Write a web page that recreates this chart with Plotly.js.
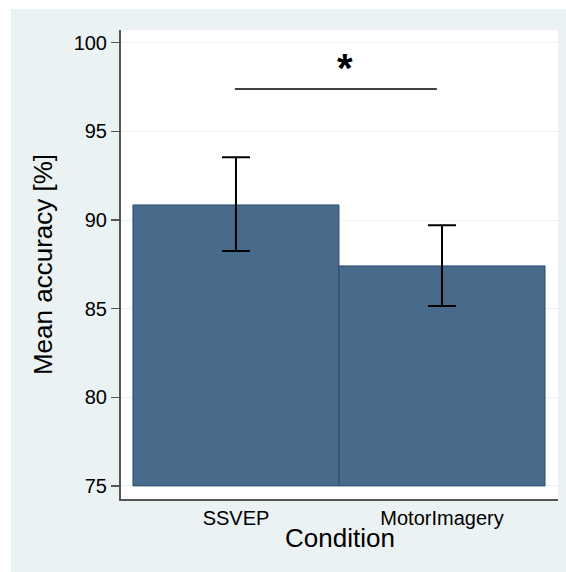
<!DOCTYPE html>
<html>
<head>
<meta charset="utf-8">
<script src="https://cdn.plot.ly/plotly-3.0.1.min.js"></script>
<style>html,body{margin:0;padding:0;background:#fff;}#chart{width:566px;height:572px;}</style>
</head>
<body>
<div id="chart"></div>
<script>
// Data
var categories = ["SSVEP", "MotorImagery"];
var meanAccuracy = [90.85, 87.41];
var ciUpper = [93.54, 89.70];
var ciLower = [88.25, 85.15];
var barBase = 75;
var yTickVals = [75, 80, 85, 90, 95, 100];
var sigLineX = [-0.005, 0.975];
var sigLineY = [97.39, 97.39];
var sigLabel = "*";
var xTitle = "Condition";
var yTitle = "Mean accuracy [%]";

var xPos = categories.map(function(c, i){ return i; });

var bars = {
  type: "bar",
  x: xPos,
  y: meanAccuracy.map(function(m){ return m - barBase; }),
  base: barBase,
  width: 1,
  marker: {color: "#486A8B", line: {color: "#2C4E70", width: 1}},
  error_y: {
    type: "data", symmetric: false,
    array: meanAccuracy.map(function(m, i){ return ciUpper[i] - m; }),
    arrayminus: meanAccuracy.map(function(m, i){ return m - ciLower[i]; }),
    color: "#000", thickness: 2, width: 14
  },
  hoverinfo: "skip"
};

var sig = {
  type: "scatter", mode: "lines",
  x: sigLineX, y: sigLineY,
  line: {color: "#000", width: 1.5},
  hoverinfo: "skip"
};

var font = "'Liberation Sans', Arial, sans-serif";

var layout = {
  width: 566, height: 572,
  margin: {l: 121, r: 8, t: 30, b: 73, pad: 0},
  paper_bgcolor: "#EAF2F3",
  plot_bgcolor: "#FFFFFF",
  showlegend: false,
  font: {family: font, color: "#000"},
  xaxis: {
    range: [-0.558, 1.563],
    tickvals: xPos, ticktext: categories,
    ticks: "", showgrid: false, zeroline: false,
    showline: true, linecolor: "#555", linewidth: 2,
    tickfont: {size: 20, color: "#000"},
    automargin: false
  },
  yaxis: {
    range: [74.26, 100.72],
    tickvals: yTickVals,
    ticks: "outside", ticklen: 8, tickwidth: 1.3, tickcolor: "#555",
    showgrid: true, gridcolor: "#EAF2F3", gridwidth: 1,
    zeroline: false,
    showline: true, linecolor: "#555", linewidth: 2,
    tickfont: {size: 20, color: "#000"},
    title: {text: yTitle, font: {size: 26, color: "#000"}, standoff: 14},
    automargin: true
  },
  shapes: [
    {type: "rect", xref: "paper", yref: "paper", x0: -0.3, x1: -0.2517, y0: -0.2, y1: 1.1, fillcolor: "#FFFFFF", line: {width: 0}, layer: "below"},
    {type: "rect", xref: "paper", yref: "paper", x0: -0.3, x1: 1.1, y0: 1.0448, y1: 1.1, fillcolor: "#FFFFFF", line: {width: 0}, layer: "below"}
  ],
  annotations: [
    {x: 0.53, y: 97.2, xref: "x", yref: "y", text: "<b>" + sigLabel + "</b>", showarrow: false,
     yanchor: "bottom", font: {size: 40, color: "#000"}},
    {x: 0.5, y: -0.083, xref: "paper", yref: "paper", text: xTitle, showarrow: false,
     xanchor: "center", yanchor: "middle", font: {size: 26, color: "#000"}}
  ]
};

Plotly.newPlot("chart", [bars, sig], layout, {displayModeBar: false, staticPlot: true});
</script>
</body>
</html>
